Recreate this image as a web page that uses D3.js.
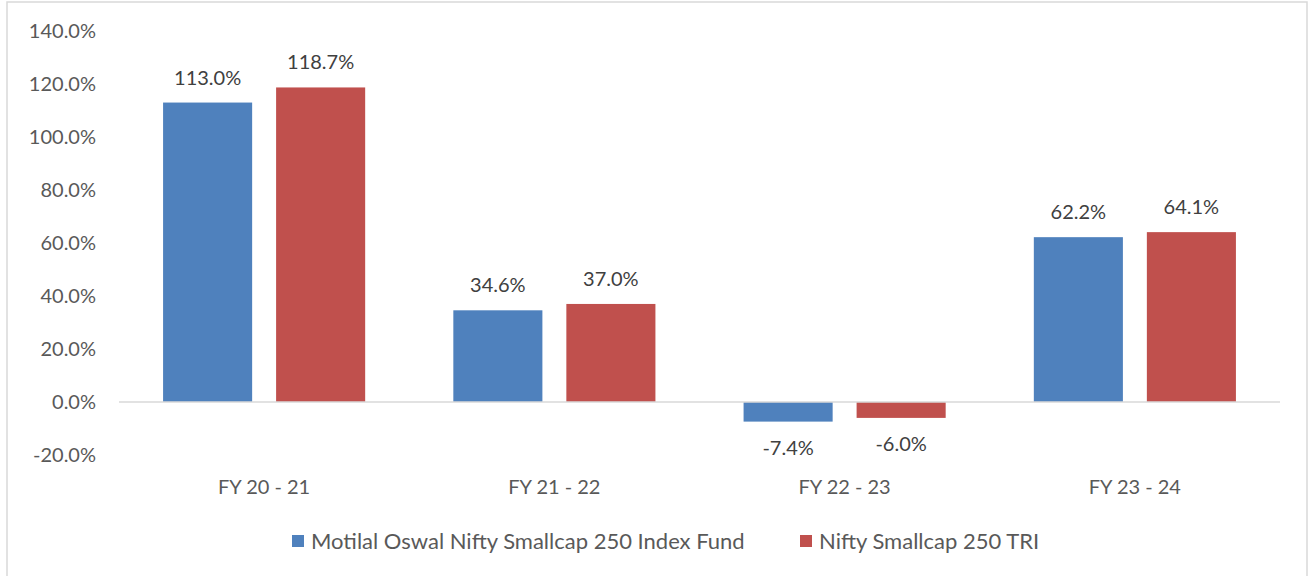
<!DOCTYPE html>
<html>
<head>
<meta charset="utf-8">
<script src="https://cdn.jsdelivr.net/npm/d3@7"></script>
<style>
  body { margin: 0; background: #fff; }
  svg { display: block; }
</style>
</head>
<body>
<div id="chart"></div>
<script>
// Chart data
const categories = ["FY 20 - 21", "FY 21 - 22", "FY 22 - 23", "FY 23 - 24"];
const series = ["Motilal Oswal Nifty Smallcap 250 Index Fund", "Nifty Smallcap 250 TRI"];
const fund_values = [113.0, 34.6, -7.4, 62.2];
const index_values = [118.7, 37.0, -6.0, 64.1];
const y_ticks = [-20, 0, 20, 40, 60, 80, 100, 120, 140];
const colors = ["#4f81bd", "#c0504d"];

function drawChart() {
    const width = 1312;
    const height = 576;
    const font = "Lato, 'Open Sans', sans-serif";

    const svg = d3.select("#chart").append("svg")
        .attr("width", width)
        .attr("height", height)
        .style("font-family", font);

    // Chart area border
    svg.append("rect")
        .attr("x", 7).attr("y", 2)
        .attr("width", 1300).attr("height", 600)
        .attr("fill", "none")
        .attr("stroke", "#d9d9d9")
        .attr("stroke-width", 1.5);

    const y = d3.scaleLinear().domain([-20, 140]).range([455, 31]);
    const x0 = d3.scaleBand().domain(categories).range([119, 1280]);
    const x1 = d3.scaleBand().domain(series).range([0, x0.bandwidth()])
        .paddingInner(0.212).paddingOuter(0.39);

    const rows = categories.map((c, i) => ({cat: c, vals: [fund_values[i], index_values[i]]}));

    // Y axis labels (no line, no gridlines)
    const yAxis = svg.append("g")
        .attr("transform", "translate(96,0)")
        .call(d3.axisLeft(y).tickValues(y_ticks).tickSize(0).tickPadding(0)
            .tickFormat(d => d.toFixed(1) + "%"));
    yAxis.select(".domain").remove();
    yAxis.selectAll("text")
        .style("font-family", font)
        .style("font-size", "20px")
        .attr("fill", "#595959");

    // Bars
    const group = svg.append("g").selectAll("g")
        .data(rows)
        .join("g")
        .attr("transform", d => `translate(${x0(d.cat)},0)`);

    group.selectAll("rect")
        .data(d => d.vals.map((v, i) => ({s: series[i], v: v, i: i})))
        .join("rect")
        .attr("x", d => x1(d.s))
        .attr("width", x1.bandwidth())
        .attr("y", d => y(Math.max(0, d.v)))
        .attr("height", d => Math.abs(y(d.v) - y(0)))
        .attr("fill", d => colors[d.i]);

    // Value labels
    group.selectAll("text.val")
        .data(d => d.vals.map((v, i) => ({s: series[i], v: v, i: i})))
        .join("text")
        .attr("class", "val")
        .attr("x", d => x1(d.s) + x1.bandwidth() / 2)
        .attr("y", d => d.v >= 0 ? y(d.v) - 18 : y(d.v) + 33)
        .attr("text-anchor", "middle")
        .attr("fill", "#404040")
        .style("font-size", "20px")
        .text(d => d.v.toFixed(1) + "%");

    // Zero line
    svg.append("line")
        .attr("x1", 119).attr("x2", 1280)
        .attr("y1", y(0)).attr("y2", y(0))
        .attr("stroke", "#d9d9d9")
        .attr("stroke-width", 1.5);

    // Category labels
    const xAxis = svg.append("g")
        .attr("transform", "translate(0,494)")
        .call(d3.axisBottom(x0).tickSize(0).tickPadding(0));
    xAxis.select(".domain").remove();
    xAxis.selectAll("text")
        .attr("dy", 0)
        .style("font-family", font)
        .style("font-size", "20px")
        .attr("fill", "#595959");

    // Legend
    const legend_x = [292, 800];
    const legend = svg.append("g").selectAll("g")
        .data(series)
        .join("g")
        .attr("transform", (d, i) => `translate(${legend_x[i]},541)`);
    legend.append("rect")
        .attr("x", 0).attr("y", -6)
        .attr("width", 12).attr("height", 12)
        .attr("fill", (d, i) => colors[i]);
    legend.append("text")
        .attr("x", 19).attr("y", 0)
        .attr("dy", "0.35em")
        .attr("fill", "#595959")
        .style("font-size", "22px")
        .text(d => d);
}

drawChart();
</script>
</body>
</html>
